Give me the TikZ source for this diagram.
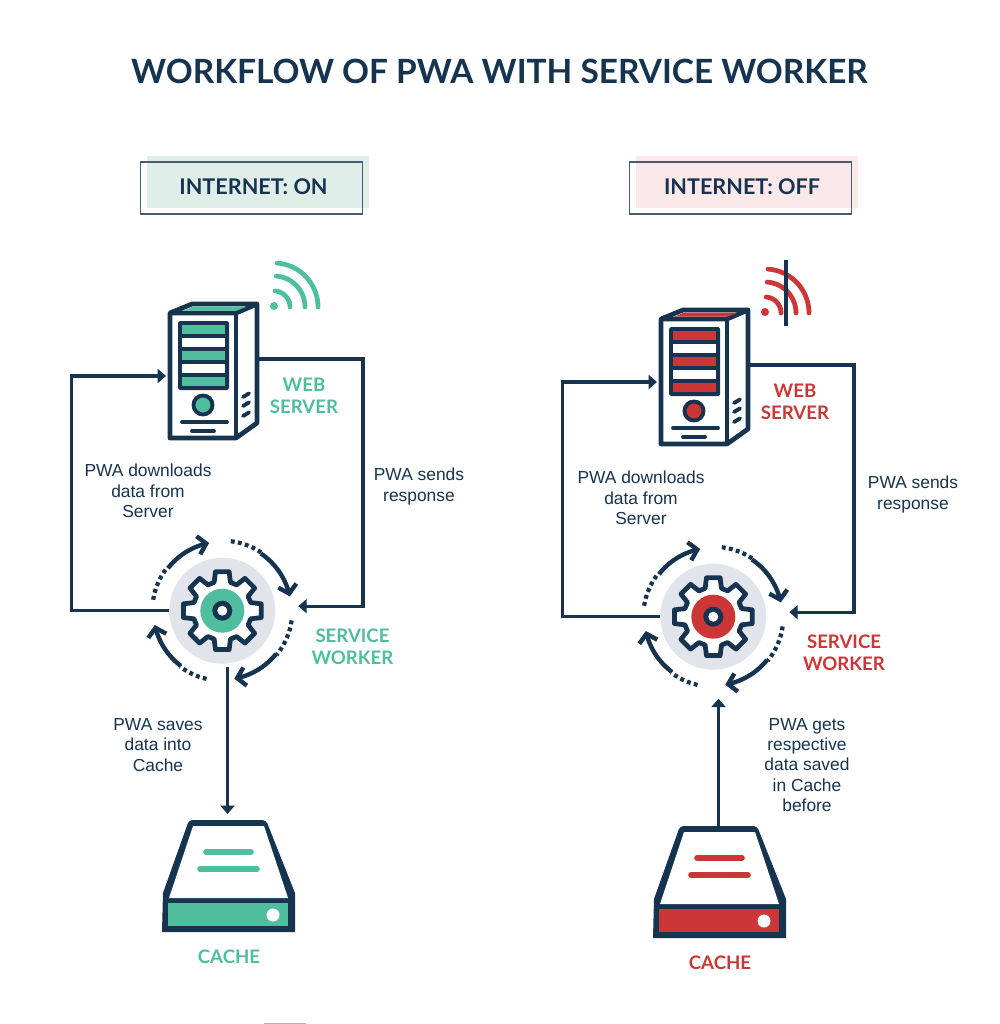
\documentclass[tikz,border=0pt]{standalone}
\usepackage{fontspec}
\setmainfont{Lato}
\newfontfamily\stepfont{Liberation Sans}
\usetikzlibrary{arrows.meta,calc}
\definecolor{navy}{HTML}{16344F}
\definecolor{mint}{HTML}{4FBE9F}
\definecolor{brick}{HTML}{CC3636}
\definecolor{discgrey}{HTML}{E1E5EB}
\definecolor{palemint}{HTML}{E0EEEA}
\definecolor{palerose}{HTML}{FBE9E9}
\tikzset{
  flow/.style={navy,line width=1.9pt,-{Triangle[length=4.8pt,width=8pt]}},
  ringsolid/.style={navy,line width=2.5pt,-{Straight Barb[length=4.6pt,width=10.5pt,line width=2.5pt]}},
  ringdots/.style={navy,line width=2.4pt,dash pattern=on 2.2pt off 1.9pt},
  hub/.style={inner sep=0pt,outer sep=0pt},
  titletext/.style={font=\bfseries\fontsize{19}{23}\selectfont,text=navy,inner sep=0pt},
  bannertext/.style={font=\bfseries\fontsize{12.3}{14}\selectfont,text=navy,inner sep=0pt},
  steptext/.style={font=\stepfont\fontsize{9.9}{11.55}\selectfont,text=navy,align=center,inner sep=0pt},
  rolelabel/.style={font=\bfseries\fontsize{10.6}{12.3}\selectfont,align=center,inner sep=0pt},
  bannerline/.style={draw=navy!80!white,line width=0.6pt},
}
% Server tower, gear with its ring of arrows, cache drive and the links between them.
% #1 = name prefix, #2 = accent colour
\newcommand{\workflowgroup}[2]{%
  % wifi signal
  \fill[#2] (274,306) circle (4);
  \foreach \r in {16,31,44}
    \draw[#2,line width=2.7pt,line cap=round] plot[domain=-86:0,samples=24] ({274+\r*cos(\x)},{307+\r*sin(\x)});
  % server tower
  \node[hub,minimum width=87*0.02cm,minimum height=137*0.02cm] (#1server) at (213.5,371.5) {};
  \filldraw[fill=white,draw=navy,line width=2.7pt,line join=round]
    (170,313) -- (192,304) -- (257,304) -- (257,423) -- (236,438) -- (170,438) -- cycle;
  \draw[navy,line width=2.7pt,line join=round] (170,313) -- (236,313) -- (257,304);
  \draw[navy,line width=2.7pt] (236,313) -- (236,438);
  \fill[#2] (184,310.5) -- (193,306.5) -- (247,306.5) -- (237,310.5) -- cycle;
  \fill[navy,rounded corners=1pt] (178,321) rectangle (229,390);
  \fill[#2] (182,325) rectangle (225,334);
  \fill[white] (182,338) rectangle (225,347);
  \fill[#2] (182,351) rectangle (225,360);
  \fill[white] (182,364) rectangle (225,373);
  \fill[#2] (182,377) rectangle (225,386);
  \filldraw[fill=#2,draw=navy,line width=2.2pt] (203,405) circle (9.5);
  \draw[navy,line width=2.2pt,line cap=round] (182,422) -- (227,422);
  \draw[navy,line width=2.2pt,line cap=round] (192,431) -- (214,431);
  \foreach \y in {397,406,416}
    \draw[navy,line width=2.2pt,line cap=round] (243,\y) -- (249,\y-3.6);
  % gear disc, gear and ring arrows
  \node[hub,circle,fill=discgrey,minimum size=106*0.02cm] (#1gear) at (222.3,610.7) {};
  \begin{scope}[shift={(222.3,610.7)}]
    \filldraw[fill=white,draw=navy,line width=2.7pt,line join=round]
      (74:29.5) \foreach \a in {90,135,180,225,270,315,360,405} { -- (\a-16:29.5) -- (\a-10:39.5) -- (\a+10:39.5) -- (\a+16:29.5) } -- cycle;
    \fill[#2] (0,0) circle (22);
    \fill[navy] (0,0) circle (10);
    \fill[white] (0,0) circle (5);
    \draw[ringdots] plot[domain=-83:-56,samples=16] (\x:70);
    \draw[ringsolid] plot[domain=-56:-12,samples=24] (\x:69);
    \draw[ringdots] plot[domain=8:39,samples=16] (\x:70);
    \draw[ringsolid] plot[domain=39:80,samples=24] (\x:69);
    \draw[ringdots] plot[domain=103:127,samples=16] (\x:70);
    \draw[ringsolid] plot[domain=127:168,samples=24] (\x:69);
    \draw[ringdots] plot[domain=189:218,samples=16] (\x:70);
    \draw[ringsolid] plot[domain=218:259,samples=24] (\x:69);
  \end{scope}
  % cache drive
  \node[hub,minimum width=133*0.02cm,minimum height=112*0.02cm] (#1cache) at (227.5,876) {};
  \fill[navy] (162,932) -- (163,893) [rounded corners=2pt] -- (189,820) -- (266,820) [sharp corners] -- (295,893) -- (295,932) -- cycle;
  \fill[white] (193,826) -- (264,826) -- (288,898) -- (169,898) -- cycle;
  \fill[#2] (168,903) rectangle (288,926);
  \fill[white] (273,915) circle (6.5);
  \draw[#2,line width=3.2pt,line cap=round] (206,852) -- (251,852);
  \draw[#2,line width=3.2pt,line cap=round] (200,869) -- (257,869);
  % links
  \draw[flow] (#1gear.west) -- ++(-98,0) |- ($(#1server.west)+(-4,4.5)$);
  \draw[flow] ($(#1server.east)+(0,-12.5)$) -- ++(106,0) |- ($(#1gear.east)+(23,-4.5)$);
}
\begin{document}
\begin{tikzpicture}[x=0.02cm,y=-0.02cm]
  \useasboundingbox (0,0) rectangle (1000,1024);
  \fill[white] (0,0) rectangle (1000,1024);
  \node[titletext] (title) at (499.5,71) {WORKFLOW OF PWA WITH SERVICE WORKER};

  % status banners
  \fill[palemint] (147,156) rectangle (369,208);
  \draw[bannerline] (140.5,162) rectangle (362.5,214);
  \node[bannertext] (onlabel) at (253.5,186.5) {INTERNET: ON};
  \fill[palerose] (636,156) rectangle (858,208);
  \draw[bannerline] (629.5,162) rectangle (851.5,214);
  \node[bannertext] (offlabel) at (742,186.5) {INTERNET: OFF};

  % connected case
  \workflowgroup{on}{mint}
  \draw[flow] ($(oncache.north |- ongear.south)+(0,3)$) -- ($(oncache.north)+(0,-6)$);
  \node[rolelabel,text=mint] (onweb) at (304,396) {WEB\\SERVER};
  \node[rolelabel,text=mint] (onworker) at (352.5,647) {SERVICE\\WORKER};
  \node[rolelabel,text=mint] (oncachelabel) at (229,957) {CACHE};
  \node[steptext] (ondown) at (148,491) {PWA downloads\\data from\\Server};
  \node[steptext] (onsend) at (419,486.5) {PWA sends\\response};
  \node[steptext] (onsave) at (158,745) {PWA saves\\data into\\Cache};

  % offline case
  \begin{scope}[shift={(491,6)}]
    \workflowgroup{off}{brick}
  \end{scope}
  \draw[navy,line width=1.8pt] (786,260) -- (786,326);
  \draw[flow] (offcache.north) -- ($(offcache.north |- offgear.south)+(0,29)$);
  \node[rolelabel,text=brick] (offweb) at (795,402) {WEB\\SERVER};
  \node[rolelabel,text=brick] (offworker) at (844,653) {SERVICE\\WORKER};
  \node[rolelabel,text=brick] (offcachelabel) at (720,963) {CACHE};
  \node[steptext] (offdown) at (641,498) {PWA downloads\\data from\\Server};
  \node[steptext] (offsend) at (913,494.5) {PWA sends\\response};
  \node[steptext] (offget) at (807,765) {PWA gets\\respective\\data saved\\in Cache\\before};

  % short grey rule on the lower edge
  \fill[black!30] (264,1022.6) rectangle (306,1024);
\end{tikzpicture}
\end{document}
